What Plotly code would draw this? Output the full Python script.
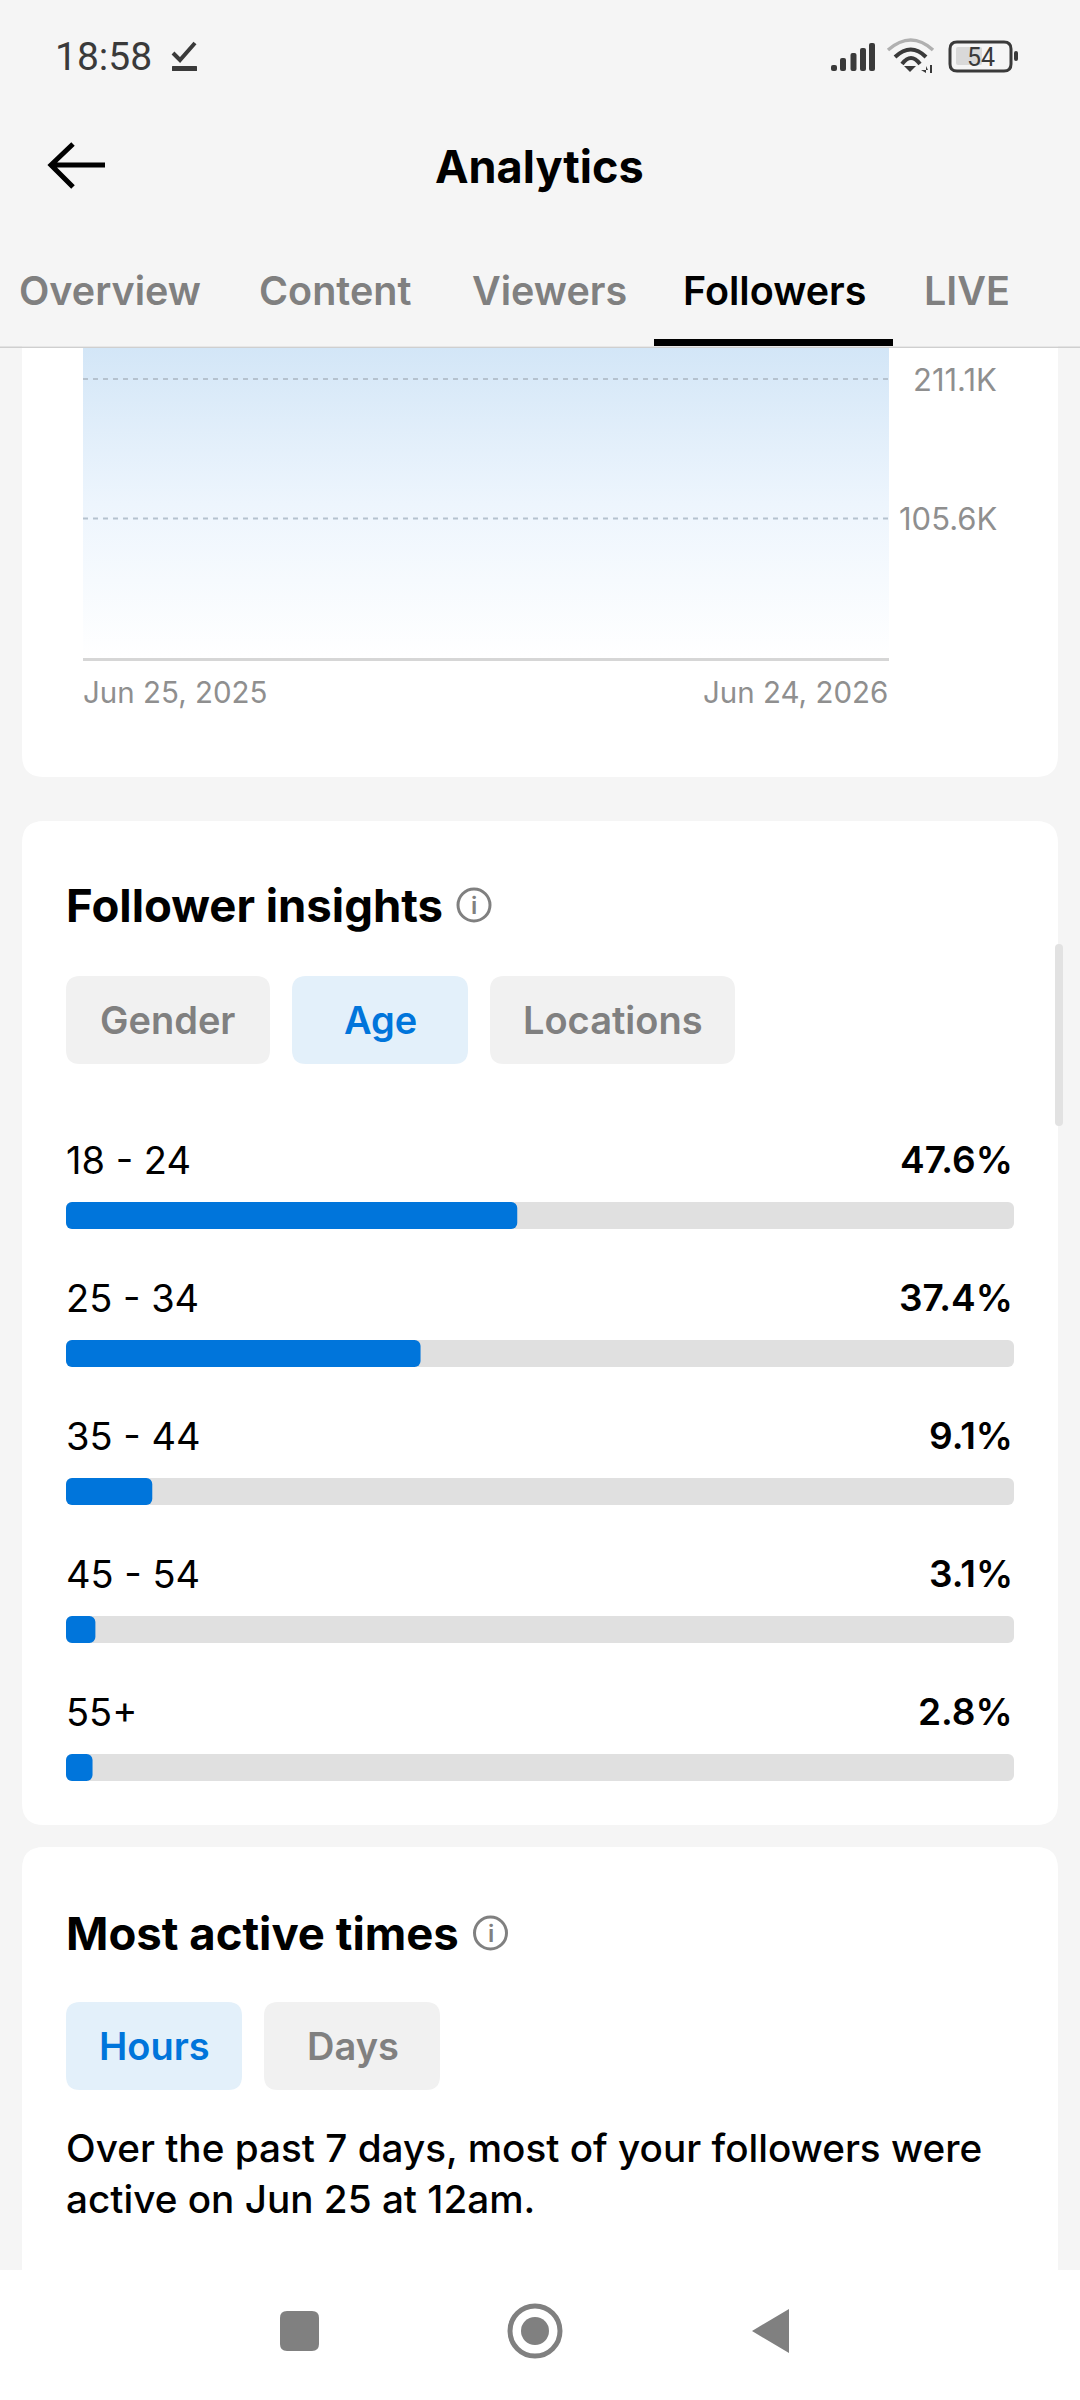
import plotly.graph_objects as go

W, H = 1080, 2400

# follower chart, the top of the area sits above the visible part
dates = ["2025-06-25", "2026-06-24"]
followers = [260000, 260000]
y_tick_vals = [105600, 211100]
y_tick_labels = ["105.6K", "211.1K"]
x_tick_labels = ["Jun 25, 2025", "Jun 24, 2026"]

# age split
ages = ["18 - 24", "25 - 34", "35 - 44", "45 - 54", "55+"]
age_share = [47.6, 37.4, 9.1, 3.1, 2.8]
age_labels = ["47.6%", "37.4%", "9.1%", "3.1%", "2.8%"]
track = [100, 100, 100, 100, 100]

tabs = ["Overview", "Content", "Viewers", "Followers", "LIVE"]
tab_left = [18, 258, 471, 682, 923]

BG = "#f5f5f5"
BLUE = "#0075db"
GREY = "#808080"
FONT = "Inter"


def px(x):
    return x / W


def py(y):
    return 1 - y / H


def p(x, y):
    return f"{px(x)},{py(y)}"


def rrect(x0, y0, x1, y1, r):
    return (f"M{p(x0 + r, y0)} L{p(x1 - r, y0)} Q{p(x1, y0)} {p(x1, y0 + r)} "
            f"L{p(x1, y1 - r)} Q{p(x1, y1)} {p(x1 - r, y1)} L{p(x0 + r, y1)} "
            f"Q{p(x0, y1)} {p(x0, y1 - r)} L{p(x0, y0 + r)} Q{p(x0, y0)} {p(x0 + r, y0)} Z")


shapes = []


def box(x0, y0, x1, y1, r, color):
    shapes.append(dict(type="path", xref="paper", yref="paper", path=rrect(x0, y0, x1, y1, r),
                       fillcolor=color, line_width=0, layer="below"))


def stroke(path, color, width):
    shapes.append(dict(type="path", xref="paper", yref="paper", path=path,
                       line=dict(color=color, width=width), layer="below"))


def solid(path, color):
    shapes.append(dict(type="path", xref="paper", yref="paper", path=path,
                       fillcolor=color, line_width=0, layer="below"))


def circle(cx, cy, r, fill, line=None, width=0):
    shapes.append(dict(type="circle", xref="paper", yref="paper",
                       x0=px(cx - r), x1=px(cx + r), y0=py(cy + r), y1=py(cy - r),
                       fillcolor=fill, line=dict(color=line or fill, width=width), layer="below"))


annotations = []


def text(s, x, y, size, color, weight=400, anchor="left", family=FONT):
    annotations.append(dict(text=s, xref="paper", yref="paper", x=px(x), y=py(y),
                            xanchor=anchor, yanchor="middle", showarrow=False, borderpad=0,
                            font=dict(family=family, size=size, color=color, weight=weight)))


fig = go.Figure()

# cards
box(22, 200, 1058, 777, 22, "white")
box(22, 821, 1058, 1825, 22, "white")
box(22, 1847, 1058, 2400, 22, "white")

# header sits over the first card
shapes.append(dict(type="rect", xref="paper", yref="paper", x0=0, x1=1, y0=py(346), y1=1,
                   fillcolor=BG, line_width=0, layer="below"))
shapes.append(dict(type="rect", xref="paper", yref="paper", x0=0, x1=1, y0=py(348), y1=py(346.5),
                   fillcolor="#cfcfcf", line_width=0, layer="below"))
shapes.append(dict(type="rect", xref="paper", yref="paper", x0=px(654), x1=px(893), y0=py(346), y1=py(339),
                   fillcolor="black", line_width=0, layer="below"))

# bottom nav
shapes.append(dict(type="rect", xref="paper", yref="paper", x0=0, x1=1, y0=0, y1=py(2270),
                   fillcolor="white", line_width=0, layer="below"))
box(280, 2311, 319, 2351, 7, GREY)
circle(535, 2331, 25, "white", GREY, 5)
circle(535, 2331, 14, GREY)
solid(f"M{p(789, 2309)} L{p(752, 2331)} L{p(789, 2353)} Z", GREY)

# status bar
text("18:58", 54, 57, 39, "#3a3a3a", 400, family="Roboto")
stroke(f"M{p(173, 53)} L{p(180, 60)} L{p(195, 43)}", "#3a3a3a", 4)
box(172, 66, 197, 71, 0.5, "#3a3a3a")
for bx, top in zip([831, 840, 850.5, 860, 869], [65, 58, 53, 48, 43]):
    box(bx, top, bx + 6, 71, 2, "#3a3a3a")
stroke(f"M{p(888, 50)} Q{p(911, 30)} {p(933, 50)}", "#b0b0b0", 3.5)
stroke(f"M{p(895, 57)} Q{p(911, 42)} {p(926, 57)}", "#3a3a3a", 4)
stroke(f"M{p(902, 64)} Q{p(911, 52)} {p(920, 64)}", "#3a3a3a", 4)
solid(f"M{p(904, 66)} L{p(916, 66)} L{p(910, 72)} Z", "#3a3a3a")
solid(f"M{p(921, 70)} L{p(928, 70)} L{p(926, 66)} L{p(926, 73)} Z", "#3a3a3a")
stroke(f"M{p(931, 65)} L{p(931, 73)}", "#3a3a3a", 2)
box(956, 47, 982, 65, 2, "#d9d9d9")
stroke(rrect(950, 42, 1011, 71, 7), "#3a3a3a", 3)
box(1014, 51, 1018, 61, 2, "#3a3a3a")
text("54", 981, 57, 25, "#3a3a3a", 400, "center", "Roboto")

# title row
stroke(f"M{p(105, 165)} L{p(51, 165)} M{p(73, 144)} L{p(51, 165)} L{p(73, 187)}", "black", 5)
text("Analytics", 539, 166, 45, "black", 700, "center")
for tab, left in zip(tabs, tab_left):
    text(tab, left, 291, 39.5, "black" if tab == "Followers" else GREY, 600)

# follower insights header and chips
text("Follower insights", 65, 906, 45.5, "black", 700)
circle(474, 905, 16, "white", "#808080", 3)
text("i", 474, 905, 24, "#808080", 600, "center")
box(66, 976, 270, 1064, 14, "#f1f1f1")
box(292, 976, 468, 1064, 14, "#e3f0fa")
box(490, 976, 735, 1064, 14, "#f1f1f1")
text("Gender", 167, 1020, 38, GREY, 600, "center")
text("Age", 380, 1020, 38, BLUE, 600, "center")
text("Locations", 612.5, 1020, 38, GREY, 600, "center")

# scroll thumb
box(1055, 944, 1063, 1126, 4, "#e2e2e2")

# most active times
text("Most active times", 65, 1933, 45.5, "black", 700)
circle(490.5, 1933, 16, "white", "#808080", 3)
text("i", 490.5, 1933, 24, "#808080", 600, "center")
box(66, 2002, 242, 2090, 14, "#e3f0fa")
box(264, 2002, 440, 2090, 14, "#f1f1f1")
text("Hours", 154, 2046, 38, BLUE, 600, "center")
text("Days", 353, 2046, 38, GREY, 600, "center")
text("Over the past 7 days, most of your followers were", 65, 2148, 38.7, "black", 500)
text("active on Jun 25 at 12am.", 65, 2199, 38.7, "black", 500)

# area chart
y_top = 234600
fig.add_trace(go.Scatter(
    x=dates, y=followers, xaxis="x", yaxis="y", mode="none", fill="tozeroy",
    fillgradient=dict(type="vertical", start=0, stop=y_top,
                      colorscale=[[0, "#ffffff"], [0.5, "#edf5fd"], [1, "#d3e6f7"]]),
    hoverinfo="skip", showlegend=False,
))
for val, label in zip(y_tick_vals, y_tick_labels):
    fig.add_trace(go.Scatter(x=dates, y=[val, val], xaxis="x", yaxis="y", mode="lines",
                             line=dict(color="#b5c2cf", width=2, dash="5px,5px"),
                             hoverinfo="skip", showlegend=False))
    annotations.append(dict(text=label, xref="paper", yref="y", x=px(998), y=val, xanchor="right",
                            yanchor="middle", showarrow=False, borderpad=0, yshift=-0.5,
                            font=dict(family=FONT, size=31, color="#8f8f8f")))
annotations.append(dict(text=x_tick_labels[0], xref="x", yref="paper", x=dates[0], y=py(692), xanchor="left",
                        xshift=-1.5, yanchor="middle", showarrow=False, borderpad=0,
                        font=dict(family=FONT, size=29.5, color="#8f8f8f")))
annotations.append(dict(text=x_tick_labels[1], xref="x", yref="paper", x=dates[1], y=py(692), xanchor="right",
                        yanchor="middle", showarrow=False, borderpad=0,
                        font=dict(family=FONT, size=29.5, color="#8f8f8f")))

# age bars, a base makes plotly round both ends
fig.add_trace(go.Bar(y=ages, x=track, base=0, orientation="h", xaxis="x2", yaxis="y2",
                     width=27 / 138, marker=dict(color="#e0e0e0", cornerradius=6, line_width=0),
                     hoverinfo="skip", showlegend=False))
fig.add_trace(go.Bar(y=ages, x=age_share, base=0, orientation="h", xaxis="x2", yaxis="y2",
                     width=27 / 138, marker=dict(color=BLUE, cornerradius=6, line_width=0),
                     hoverinfo="skip", showlegend=False))
for age, label in zip(ages, age_labels):
    annotations.append(dict(text=age, xref="x2", yref="y2", x=0, y=age, yshift=56, xshift=-1, xanchor="left",
                            yanchor="middle", showarrow=False, borderpad=0,
                            font=dict(family=FONT, size=38, color="black")))
    annotations.append(dict(text=label, xref="x2", yref="y2", x=100, y=age, yshift=56, xanchor="right",
                            yanchor="middle", showarrow=False, borderpad=0,
                            font=dict(family=FONT, size=37, color="black", weight=600)))

fig.update_layout(
    width=W, height=H, margin=dict(l=0, r=0, t=0, b=0), autosize=False,
    paper_bgcolor=BG, plot_bgcolor="rgba(0,0,0,0)", barmode="overlay", showlegend=False,
    xaxis=dict(domain=[px(83), px(889)], type="date", range=dates, showgrid=False, zeroline=False,
               showticklabels=False, ticks="", showline=True, linecolor="#d6d6d6", linewidth=2.5),
    yaxis=dict(domain=[py(658), py(348)], range=[0, y_top], showgrid=False, zeroline=False,
               showticklabels=False, ticks=""),
    xaxis2=dict(domain=[px(66), px(1014)], range=[0, 100], anchor="y2", visible=False),
    yaxis2=dict(domain=[py(1836.5), py(1146.5)], type="category", categoryorder="array", categoryarray=ages,
                range=[4.5, -0.5], anchor="x2", visible=False),
    shapes=shapes, annotations=annotations,
)

fig.write_html("out.html", config={"displayModeBar": False},
               post_script="document.body.style.margin = '0';")
